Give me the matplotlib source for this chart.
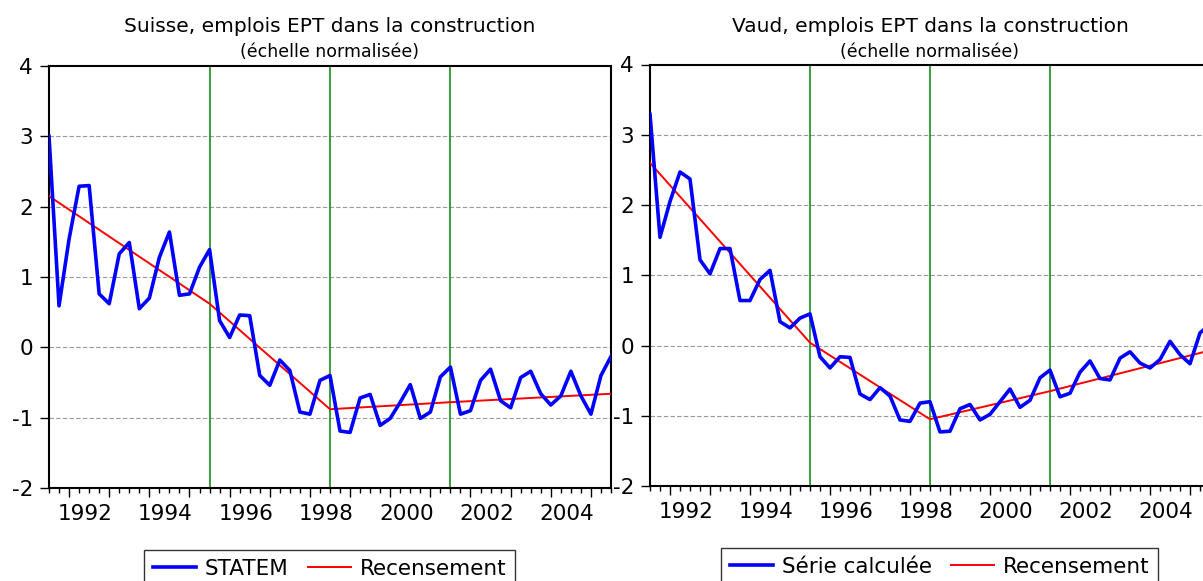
import numpy as np
import pandas as pd
import matplotlib
matplotlib.use('Agg')
import matplotlib.pyplot as plt

# quarterly observations 1991Q3 .. 2005Q3, plotted at decimal year
quarters = pd.period_range('1991Q3', '2005Q3', freq='Q')
t = np.asarray(quarters.year + (quarters.quarter - 1) / 4, dtype=float)

statem_ch = [3.00, 0.59, 1.54, 2.29, 2.30, 0.76, 0.62, 1.33, 1.49, 0.55,
             0.70, 1.28, 1.64, 0.74, 0.76, 1.14, 1.39, 0.38, 0.14, 0.46,
             0.45, -0.40, -0.54, -0.18, -0.33, -0.92, -0.95, -0.47, -0.40, -1.19,
             -1.21, -0.72, -0.67, -1.11, -1.01, -0.78, -0.53, -1.01, -0.92, -0.42,
             -0.28, -0.95, -0.90, -0.47, -0.31, -0.76, -0.86, -0.43, -0.34, -0.66,
             -0.82, -0.69, -0.34, -0.69, -0.95, -0.40, -0.13]

serie_vd = [3.29, 1.54, 2.05, 2.47, 2.37, 1.22, 1.02, 1.38, 1.38, 0.64,
            0.64, 0.94, 1.07, 0.34, 0.25, 0.39, 0.45, -0.16, -0.32, -0.16,
            -0.17, -0.69, -0.77, -0.60, -0.72, -1.06, -1.08, -0.82, -0.80, -1.23,
            -1.22, -0.90, -0.84, -1.06, -0.98, -0.80, -0.62, -0.88, -0.78, -0.46,
            -0.35, -0.73, -0.68, -0.38, -0.22, -0.47, -0.49, -0.18, -0.09, -0.25,
            -0.32, -0.20, 0.06, -0.13, -0.26, 0.18, 0.30]

# census (Recensement) points, linear between them
census_t = [1991.5, 1995.5, 1998.5, 2001.5, 2005.5]
recens_ch = [2.15, 0.62, -0.88, -0.78, -0.66]
recens_vd = [2.60, 0.04, -1.05, -0.65, -0.07]

breaks = [1991.5, 1995.5, 1998.5, 2001.5]
year_labels = [1992, 1994, 1996, 1998, 2000, 2002, 2004]

W, H = 1203, 581
fig = plt.figure(figsize=(W / 100, H / 100), dpi=100)
FS = 15.5


def panel(px, title, blue, blue_label, red, leg_cx, leg_top):
    x0, x1, ytop, ybot = px
    ax = fig.add_axes([x0 / W, 1 - ybot / H, (x1 - x0) / W, (ybot - ytop) / H])
    ax.set_xlim(1991.5, 2005.5)
    ax.set_ylim(-2, 4)

    for y in [-1, 0, 1, 2, 3]:
        ax.axhline(y, color='#999999', lw=0.8, ls=(0, (4, 2)), zorder=1)
    for b in breaks:
        ax.axvline(b, color='#1a8c1a', lw=1.2, zorder=2)

    ax.plot(t, blue, color='#0000ff', lw=2.6, label=blue_label, zorder=4)
    ax.plot(census_t, red, color='#ff0000', lw=1.4, label='Recensement', zorder=3)

    ax.set_yticks(range(-2, 5))
    ax.set_yticklabels([str(v) for v in range(-2, 5)])
    ax.set_xticks(range(1992, 2006))
    ax.set_xticklabels([])
    ax.set_xticks(t, minor=True)
    ax.tick_params(axis='y', length=6.5, width=1, pad=5, labelsize=FS)
    ax.tick_params(axis='x', which='major', length=6.5, width=1)
    ax.tick_params(axis='x', which='minor', length=3.5, width=1)

    for yr in year_labels:
        ax.annotate(str(yr), xy=(yr + 0.4, 0), xycoords=('data', 'axes fraction'),
                    xytext=(0, -18.4), textcoords='offset points',
                    ha='center', va='center', fontsize=FS)

    for s in ax.spines.values():
        s.set_linewidth(1.5)
        s.set_color('black')

    cx = (x0 + x1) / 2 / W
    fig.text(cx, 1 - 26 / H, title, ha='center', va='center', fontsize=14.5)
    fig.text(cx, 1 - 52 / H, '(échelle normalisée)', ha='center', va='center', fontsize=12.5)

    leg = ax.legend(loc='upper center', bbox_to_anchor=(leg_cx / W, 1 - leg_top / H),
                    bbox_transform=fig.transFigure, ncol=2, fontsize=FS,
                    frameon=True, fancybox=False, edgecolor='black',
                    handlelength=2.0, handletextpad=0.4, columnspacing=0.9,
                    borderpad=0.4, borderaxespad=0)
    leg.get_frame().set_linewidth(1.0)
    return ax


panel((49, 611, 66, 488), 'Suisse, emplois EPT dans la construction',
      statem_ch, 'STATEM', recens_ch, 329.5, 550)
panel((650, 1210, 64.5, 486), 'Vaud, emplois EPT dans la construction',
      serie_vd, 'Série calculée', recens_vd, 939.5, 548)

fig.savefig('out.png', dpi=100)
